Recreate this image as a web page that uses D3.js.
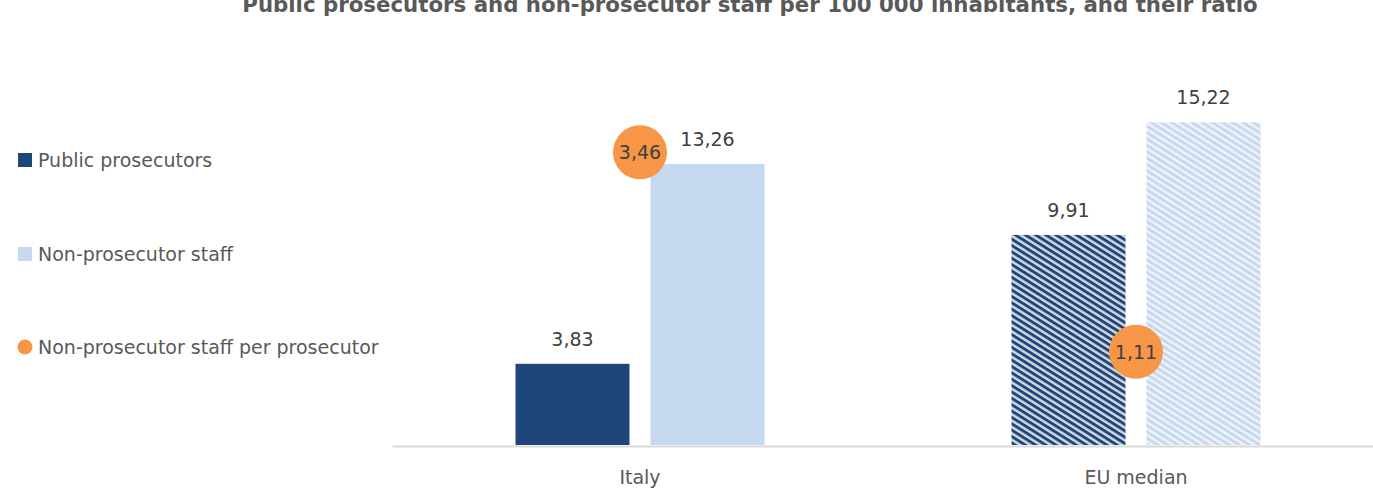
<!DOCTYPE html>
<html><head><meta charset="utf-8">
<script src="https://cdn.jsdelivr.net/npm/d3@7"></script>
<style>body{margin:0;background:#fff} svg{display:block}</style>
</head><body><svg id="c" width="1373" height="489"></svg>
<script>
const title = "Public prosecutors and non-prosecutor staff per 100 000 inhabitants, and their ratio";
const categories = ["Italy", "EU median"];
const seriesNames = ["Public prosecutors", "Non-prosecutor staff", "Non-prosecutor staff per prosecutor"];
const prosecutors = [3.83, 9.91];
const staff = [13.26, 15.22];
const ratio = [3.46, 1.11];

const fmt = v => d3.format(".2f")(v).replace(".", ",");
const FONT = "'DejaVu Sans', sans-serif";
const FS = 19;
const svg = d3.select("#c");

// patterns for EU median bars
const defs = svg.append("defs");
function stripe(id, bg, fg) {
  const p = defs.append("pattern").attr("id", id).attr("patternUnits", "userSpaceOnUse")
    .attr("width", 8).attr("height", 5.4).attr("patternTransform", "rotate(32)");
  p.append("rect").attr("width", 8).attr("height", 5.4).attr("fill", bg);
  p.append("rect").attr("width", 8).attr("height", 2.9).attr("fill", fg);
}
stripe("pDark", "#d3d8e1", "#1f467b");
stripe("pLight", "#eef3fa", "#c6d8f0");

const x = d3.scaleBand().domain(categories).range([392, 1384]);
const x1 = d3.scaleBand().domain([0, 1]).range([0, 249]).paddingInner(21 / 135);
const off = (x.bandwidth() - 249) / 2;
const y = d3.scaleLinear().domain([0, 18]).range([445, 63.4]);
const y2 = d3.scaleLinear().domain([0, 4.5]).range([446, 64]);

// title (partly cut off at the top, as in the reference)
svg.append("text").attr("x", 750).attr("y", 12).attr("text-anchor", "middle")
  .attr("font-family", FONT).attr("font-weight", "bold").attr("font-size", 21.3)
  .attr("fill", "#595959").text(title);

// axis
const ax = svg.append("g").attr("transform", "translate(0,446)")
  .call(d3.axisBottom(x).tickSize(0).tickPadding(0));
ax.select(".domain").attr("stroke", "#d9d9d9").attr("stroke-width", 2);
ax.selectAll("text").attr("font-family", FONT).attr("font-size", FS).attr("fill", "#595959")
  .attr("dy", null).attr("y", 38);

const series = [prosecutors, staff];
const solid = ["#1f467b", "#c6d9f0"];
const pat = ["url(#pDark)", "url(#pLight)"];
series.forEach((vals, s) => {
  const g = svg.append("g");
  g.selectAll("rect").data(vals).join("rect")
    .attr("x", (d, i) => x(categories[i]) + off + x1(s))
    .attr("width", x1.bandwidth())
    .attr("y", d => y(d))
    .attr("height", d => y(0) - y(d))
    .attr("fill", (d, i) => i === 0 ? solid[s] : pat[s]);
  g.selectAll("text").data(vals).join("text")
    .attr("x", (d, i) => x(categories[i]) + off + x1(s) + x1.bandwidth() / 2)
    .attr("y", d => y(d) - 18)
    .attr("text-anchor", "middle").attr("font-family", FONT).attr("font-size", FS)
    .attr("fill", "#404040").text(d => fmt(d));
});

// ratio circles
const gc = svg.append("g");
gc.selectAll("circle").data(ratio).join("circle")
  .attr("cx", (d, i) => x(categories[i]) + x.bandwidth() / 2)
  .attr("cy", d => y2(d)).attr("r", 27).attr("fill", "#f79646");
gc.selectAll("text").data(ratio).join("text")
  .attr("x", (d, i) => x(categories[i]) + x.bandwidth() / 2)
  .attr("y", d => y2(d)).attr("dy", "0.36em")
  .attr("text-anchor", "middle").attr("font-family", FONT).attr("font-size", FS)
  .attr("fill", "#404040").text(d => fmt(d));

// legend
const legY = [160, 254, 347];
const lg = svg.append("g");
seriesNames.forEach((n, i) => {
  if (i < 2) lg.append("rect").attr("x", 18).attr("y", legY[i] - 7).attr("width", 14).attr("height", 14).attr("fill", solid[i]);
  else lg.append("circle").attr("cx", 25).attr("cy", legY[i]).attr("r", 7.5).attr("fill", "#f79646");
  lg.append("text").attr("x", 38).attr("y", legY[i]).attr("dy", "0.36em")
    .attr("font-family", FONT).attr("font-size", FS).attr("fill", "#595959").text(n);
});
</script></body></html>
